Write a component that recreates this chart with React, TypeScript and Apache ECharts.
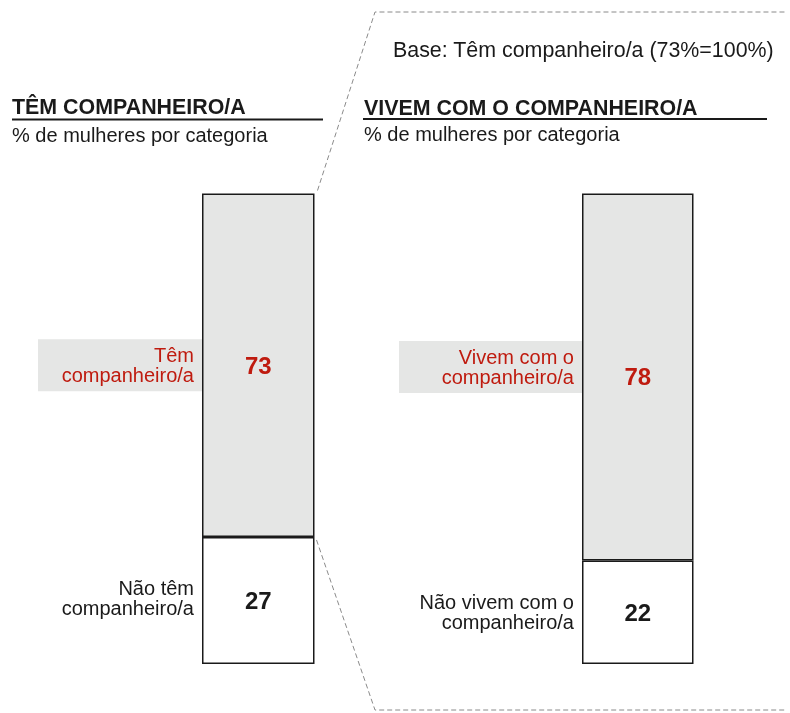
import React, { useEffect, useRef } from 'react';
import * as echarts from 'echarts';

const panelTitles = ['TÊM COMPANHEIRO/A', 'VIVEM COM O COMPANHEIRO/A'];
const panelSubtitle = '% de mulheres por categoria';
const baseNote = 'Base: Têm companheiro/a (73%=100%)';
const upperLabels = ['Têm\ncompanheiro/a', 'Vivem com o\ncompanheiro/a'];
const lowerLabels = ['Não têm\ncompanheiro/a', 'Não vivem com o\ncompanheiro/a'];
const upperValues = [73, 78];
const lowerValues = [27, 22];

const RED = '#bf1b0f';
const DARK = '#1a1a1a';
const GRAY = '#e5e6e5';
const FONT = '"Liberation Sans", Arial, sans-serif';

const grids = [
  { left: 202, top: 193.5, width: 112.5, height: 470.5 },
  { left: 582, top: 193.5, width: 111.5, height: 470.5 },
];
const labelBoxWidths = [156, 175];
const upperLabelOffsets = [[0, 0], [0, -10]];
const lowerLabelOffsets = [[0, -2], [0, 0]];

export default function App() {
  const ref = useRef<HTMLDivElement>(null);
  useEffect(() => {
    const chart = echarts.init(ref.current!, null, { renderer: 'svg' });
    const series: any[] = [];
    grids.forEach((_, i) => {
      series.push({
        type: 'bar', xAxisIndex: i, yAxisIndex: i, stack: 'v' + i, barWidth: '100%', barGap: '-100%',
        data: [lowerValues[i]],
        itemStyle: { color: '#ffffff', borderColor: DARK, borderWidth: 1.5 },
        label: { show: true, position: 'inside', formatter: '{c}', color: DARK, fontWeight: 'bold', fontSize: 24, fontFamily: FONT },
      });
      series.push({
        type: 'bar', xAxisIndex: i, yAxisIndex: i, stack: 'v' + i, barWidth: '100%', barGap: '-100%',
        data: [upperValues[i]],
        itemStyle: { color: GRAY, borderColor: DARK, borderWidth: 1.5 },
        label: { show: true, position: 'inside', formatter: '{c}', color: RED, fontWeight: 'bold', fontSize: 24, fontFamily: FONT },
      });
      series.push({
        type: 'bar', xAxisIndex: i, yAxisIndex: i, stack: 'l' + i, barWidth: '100%', barGap: '-100%',
        data: [lowerValues[i]], silent: true,
        itemStyle: { color: 'rgba(0,0,0,0)' },
        label: {
          show: true, position: 'left', distance: 8, formatter: lowerLabels[i], offset: lowerLabelOffsets[i],
          color: DARK, fontSize: 20, lineHeight: 20, fontFamily: FONT, align: 'right',
        },
      });
      series.push({
        type: 'bar', xAxisIndex: i, yAxisIndex: i, stack: 'l' + i, barWidth: '100%', barGap: '-100%',
        data: [upperValues[i]], silent: true,
        itemStyle: { color: 'rgba(0,0,0,0)' },
        label: {
          show: true, position: 'left', distance: 0, formatter: upperLabels[i], offset: upperLabelOffsets[i],
          color: RED, fontSize: 20, lineHeight: 20, fontFamily: FONT, align: 'right',
          backgroundColor: GRAY, padding: [6, 8, 6, 0], width: labelBoxWidths[i],
        },
      });
    });

    chart.setOption({
      animation: false,
      grid: grids.map((g) => ({ ...g, containLabel: false })),
      xAxis: grids.map((_, i) => ({ type: 'category', gridIndex: i, data: [''], show: false })),
      yAxis: grids.map((_, i) => ({ type: 'value', gridIndex: i, min: 0, max: 100, show: false })),
      series,
    });

    const g0 = grids[0];
    const topPt = chart.convertToPixel({ gridIndex: 0 }, [0, 100]) as number[];
    const splitPt = chart.convertToPixel({ gridIndex: 0 }, [0, lowerValues[0]]) as number[];
    const rightEdge = g0.left + g0.width;

    const textStyle = (text: string, x: number, y: number, size: number, bold = false) => ({
      type: 'text', x, y, silent: true,
      style: { text, fill: DARK, fontSize: size, fontWeight: bold ? 'bold' : 'normal', fontFamily: FONT, verticalAlign: 'middle', align: 'left' },
    });

    chart.setOption({
      graphic: [
        textStyle(panelTitles[0], 12, 107, 21.4, true),
        { type: 'line', silent: true, shape: { x1: 12, y1: 119.5, x2: 323, y2: 119.5 }, style: { stroke: DARK, lineWidth: 2 } },
        textStyle(panelSubtitle, 12, 135, 20),
        textStyle(panelTitles[1], 364, 107.5, 21.4, true),
        { type: 'line', silent: true, shape: { x1: 363, y1: 119, x2: 767, y2: 119 }, style: { stroke: DARK, lineWidth: 2 } },
        textStyle(panelSubtitle, 364, 134, 20),
        textStyle(baseNote, 393, 49.5, 21.4),
        {
          type: 'polyline', silent: true,
          shape: { points: [[rightEdge + 3, topPt[1] - 3], [375, 12], [785, 12]] },
          style: { stroke: '#8a8a8a', lineWidth: 1, lineDash: [5, 3], fill: 'none' },
        },
        {
          type: 'polyline', silent: true,
          shape: { points: [[rightEdge + 2, splitPt[1] + 3], [375, 710], [785, 710]] },
          style: { stroke: '#8a8a8a', lineWidth: 1, lineDash: [5, 3], fill: 'none' },
        },
      ],
    });

    return () => chart.dispose();
  }, []);
  return <div ref={ref} style={{ position: 'fixed', left: 0, top: 0, width: 790, height: 713 }} />;
}
